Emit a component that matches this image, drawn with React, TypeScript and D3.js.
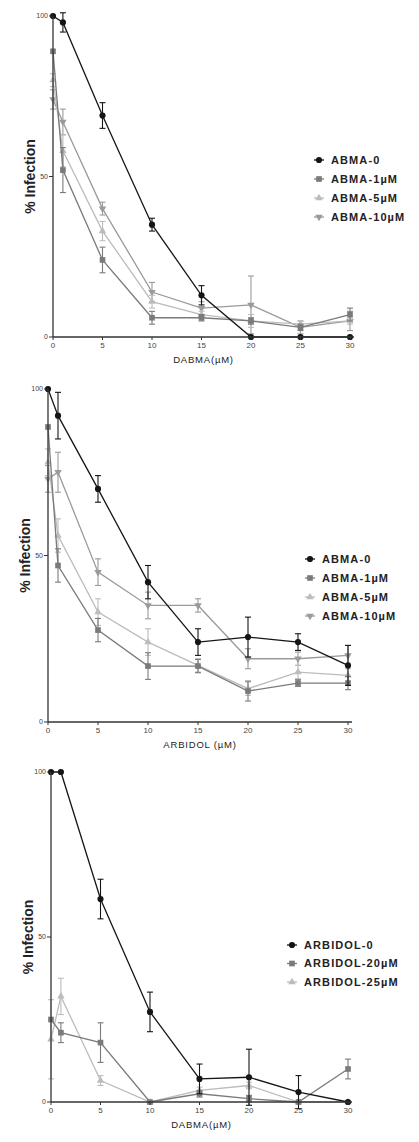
import React from "react";
import * as d3 from "d3";

const xTicks = [0, 5, 10, 15, 20, 25, 30];
const yTicks = [0, 50, 100];
const conc = [0, 1, 5, 10, 15, 20, 25, 30];

// Panel 1 (DABMA)
const p1_abma0 = [100, 98, 69, 35, 13, 0, 0, 0];
const p1_abma0_err = [0, 3, 4, 2, 3, 0, 0, 0];
const p1_abma1 = [89, 52, 24, 6, 6, 5, 3, 7];
const p1_abma1_err = [0, 7, 4, 2, 1, 1, 1, 2];
const p1_abma5 = [80, 58, 33, 11, 7, 5, 4, 5];
const p1_abma5_err = [2, 5, 3, 2, 1, 2, 1, 1];
const p1_abma10 = [74, 67, 40, 14, 9, 10, 3, 5];
const p1_abma10_err = [3, 4, 2, 3, 2, 9, 2, 3];

// Panel 2 (ARBIDOL)
const p2_abma0 = [100, 92, 70, 42, 24, 25.5, 24, 17];
const p2_abma0_err = [0, 7, 4, 5, 4, 6, 2.5, 6];
const p2_abma1 = [88.6, 47, 27.6, 16.8, 16.8, 9.3, 11.7, 11.7];
const p2_abma1_err = [0, 5, 3.5, 4, 2, 3, 1, 2];
const p2_abma5 = [78, 56, 33, 24, 17, 10, 15, 14];
const p2_abma5_err = [4, 5, 4, 4, 2, 2, 2, 2];
const p2_abma10 = [73, 75, 45, 35, 35, 19, 19, 20];
const p2_abma10_err = [4, 6, 4, 4, 2, 3, 2, 3];

// Panel 3 (DABMA with ARBIDOL)
const p3_arb0 = [100, 100, 61.5, 27.3, 7, 7.5, 3, 0];
const p3_arb0_err = [0, 0, 6, 6, 4.5, 8.5, 5, 0];
const p3_arb20 = [25, 21, 18, 0, 2.5, 1, 0, 10];
const p3_arb20_err = [0, 3, 6, 0, 1, 1, 0, 3];
const p3_arb25 = [19, 32, 6.5, 0, 3.5, 5, 0, 0];
const p3_arb25_err = [12, 5.5, 1.5, 0, 1, 1, 0, 0];

type Series = { name: string; values: number[]; err: number[]; color: string; shape: string };

const C0 = "#151515";
const C1 = "#7a7a7a";
const C5 = "#bcbcbc";
const C10 = "#9a9a9a";

const panels = [
  {
    xLabel: "DABMA(µM)",
    x0: 53, x1: 350, yTop: 16, yBot: 337,
    legendX: 319, legendY: 160, legendGap: 19,
    series: [
      { name: "ABMA-0", values: p1_abma0, err: p1_abma0_err, color: C0, shape: "circle" },
      { name: "ABMA-1µM", values: p1_abma1, err: p1_abma1_err, color: C1, shape: "square" },
      { name: "ABMA-5µM", values: p1_abma5, err: p1_abma5_err, color: C5, shape: "up" },
      { name: "ABMA-10µM", values: p1_abma10, err: p1_abma10_err, color: C10, shape: "down" },
    ] as Series[],
  },
  {
    xLabel: "ARBIDOL (µM)",
    x0: 48, x1: 348, yTop: 389, yBot: 722,
    legendX: 310, legendY: 559, legendGap: 19,
    series: [
      { name: "ABMA-0", values: p2_abma0, err: p2_abma0_err, color: C0, shape: "circle" },
      { name: "ABMA-1µM", values: p2_abma1, err: p2_abma1_err, color: C1, shape: "square" },
      { name: "ABMA-5µM", values: p2_abma5, err: p2_abma5_err, color: C5, shape: "up" },
      { name: "ABMA-10µM", values: p2_abma10, err: p2_abma10_err, color: C10, shape: "down" },
    ] as Series[],
  },
  {
    xLabel: "DABMA(µM)",
    x0: 51, x1: 348, yTop: 772, yBot: 1102,
    legendX: 292, legendY: 945, legendGap: 18.5,
    series: [
      { name: "ARBIDOL-0", values: p3_arb0, err: p3_arb0_err, color: C0, shape: "circle" },
      { name: "ARBIDOL-20µM", values: p3_arb20, err: p3_arb20_err, color: C1, shape: "square" },
      { name: "ARBIDOL-25µM", values: p3_arb25, err: p3_arb25_err, color: C5, shape: "up" },
    ] as Series[],
  },
];

function symbolPath(shape: string, size: number) {
  const type =
    shape === "circle" ? d3.symbolCircle :
    shape === "square" ? d3.symbolSquare :
    d3.symbolTriangle;
  return d3.symbol().type(type).size(size)() as string;
}

function Marker({ shape, color, x, y, size }: { shape: string; color: string; x: number; y: number; size: number }) {
  const rot = shape === "down" ? 180 : 0;
  return <path d={symbolPath(shape, size)} fill={color} transform={`translate(${x},${y}) rotate(${rot})`} />;
}

function Panel({ p }: { p: (typeof panels)[number] }) {
  const x = d3.scaleLinear().domain([0, 30]).range([p.x0, p.x1]);
  const y = d3.scaleLinear().domain([0, 100]).range([p.yBot, p.yTop]);
  const line = d3.line<number>().x((_, i) => x(conc[i])).y((v) => y(v));
  const sizes: Record<string, number> = { circle: 30, square: 32, up: 24, down: 24 };
  const font = "'Liberation Sans', Arial, sans-serif";
  return (
    <g>
      {[...p.series].reverse().map((s) => (
        <g key={s.name}>
          <path d={line(s.values) as string} fill="none" stroke={s.color} strokeWidth={1.3} />
          {s.values.map((v, i) =>
            s.err[i] > 0 ? (
              <g key={i} stroke={s.color} strokeWidth={1.1}>
                <line x1={x(conc[i])} x2={x(conc[i])} y1={y(v + s.err[i])} y2={y(v - s.err[i])} />
                <line x1={x(conc[i]) - 3} x2={x(conc[i]) + 3} y1={y(v + s.err[i])} y2={y(v + s.err[i])} />
                <line x1={x(conc[i]) - 3} x2={x(conc[i]) + 3} y1={y(v - s.err[i])} y2={y(v - s.err[i])} />
              </g>
            ) : null
          )}
          {s.values.map((v, i) => (
            <Marker key={"m" + i} shape={s.shape} color={s.color} x={x(conc[i])} y={y(v)} size={sizes[s.shape]} />
          ))}
        </g>
      ))}
      <line x1={p.x0} x2={p.x0} y1={p.yTop} y2={p.yBot} stroke="#333" strokeWidth={1.3} />
      <line x1={p.x0} x2={p.x1 + 4} y1={p.yBot} y2={p.yBot} stroke="#333" strokeWidth={1.3} />
      {yTicks.map((t) => (
        <g key={"y" + t}>
          <line x1={p.x0 - 4} x2={p.x0} y1={y(t)} y2={y(t)} stroke="#333" strokeWidth={1} />
          <text x={p.x0 - 5} y={y(t)} dy="0.35em" fontSize={7} textAnchor="end" fill="#444" fontFamily={font}>{t}</text>
        </g>
      ))}
      {xTicks.map((t) => (
        <g key={"x" + t}>
          <line x1={x(t)} x2={x(t)} y1={p.yBot} y2={p.yBot + 3} stroke="#333" strokeWidth={1} />
          <text x={x(t)} y={p.yBot + 11} fontSize={8} textAnchor="middle" fill="#444" fontFamily={font}>{t}</text>
        </g>
      ))}
      <text x={(p.x0 + p.x1) / 2 + 2} y={p.yBot + 26} fontSize={9.5} textAnchor="middle" fill="#222" fontFamily={font} letterSpacing={0.8}>{p.xLabel}</text>
      <text transform={`translate(${p.x0 - 18},${(p.yTop + p.yBot) / 2}) rotate(-90)`} fontSize={14} fontWeight="bold" textAnchor="middle" fill="#222" fontFamily={font}>% Infection</text>
      {p.series.map((s, i) => (
        <g key={"l" + s.name}>
          <line x1={p.legendX - 5} x2={p.legendX + 5} y1={p.legendY + i * p.legendGap} y2={p.legendY + i * p.legendGap} stroke={s.color} strokeWidth={1.3} />
          <Marker shape={s.shape} color={s.color} x={p.legendX} y={p.legendY + i * p.legendGap} size={sizes[s.shape]} />
          <text x={p.legendX + 12} y={p.legendY + i * p.legendGap} dy="0.35em" fontSize={11} letterSpacing={1.1} fontWeight="bold" fill="#222" fontFamily={font}>{s.name}</text>
        </g>
      ))}
    </g>
  );
}

export default function App() {
  return (
    <svg width={419} height={1142} style={{ position: "absolute", left: 0, top: 0, background: "#fff" }}>
      <rect width={419} height={1142} fill="#fff" />
      {panels.map((p, i) => (
        <Panel key={i} p={p} />
      ))}
    </svg>
  );
}
